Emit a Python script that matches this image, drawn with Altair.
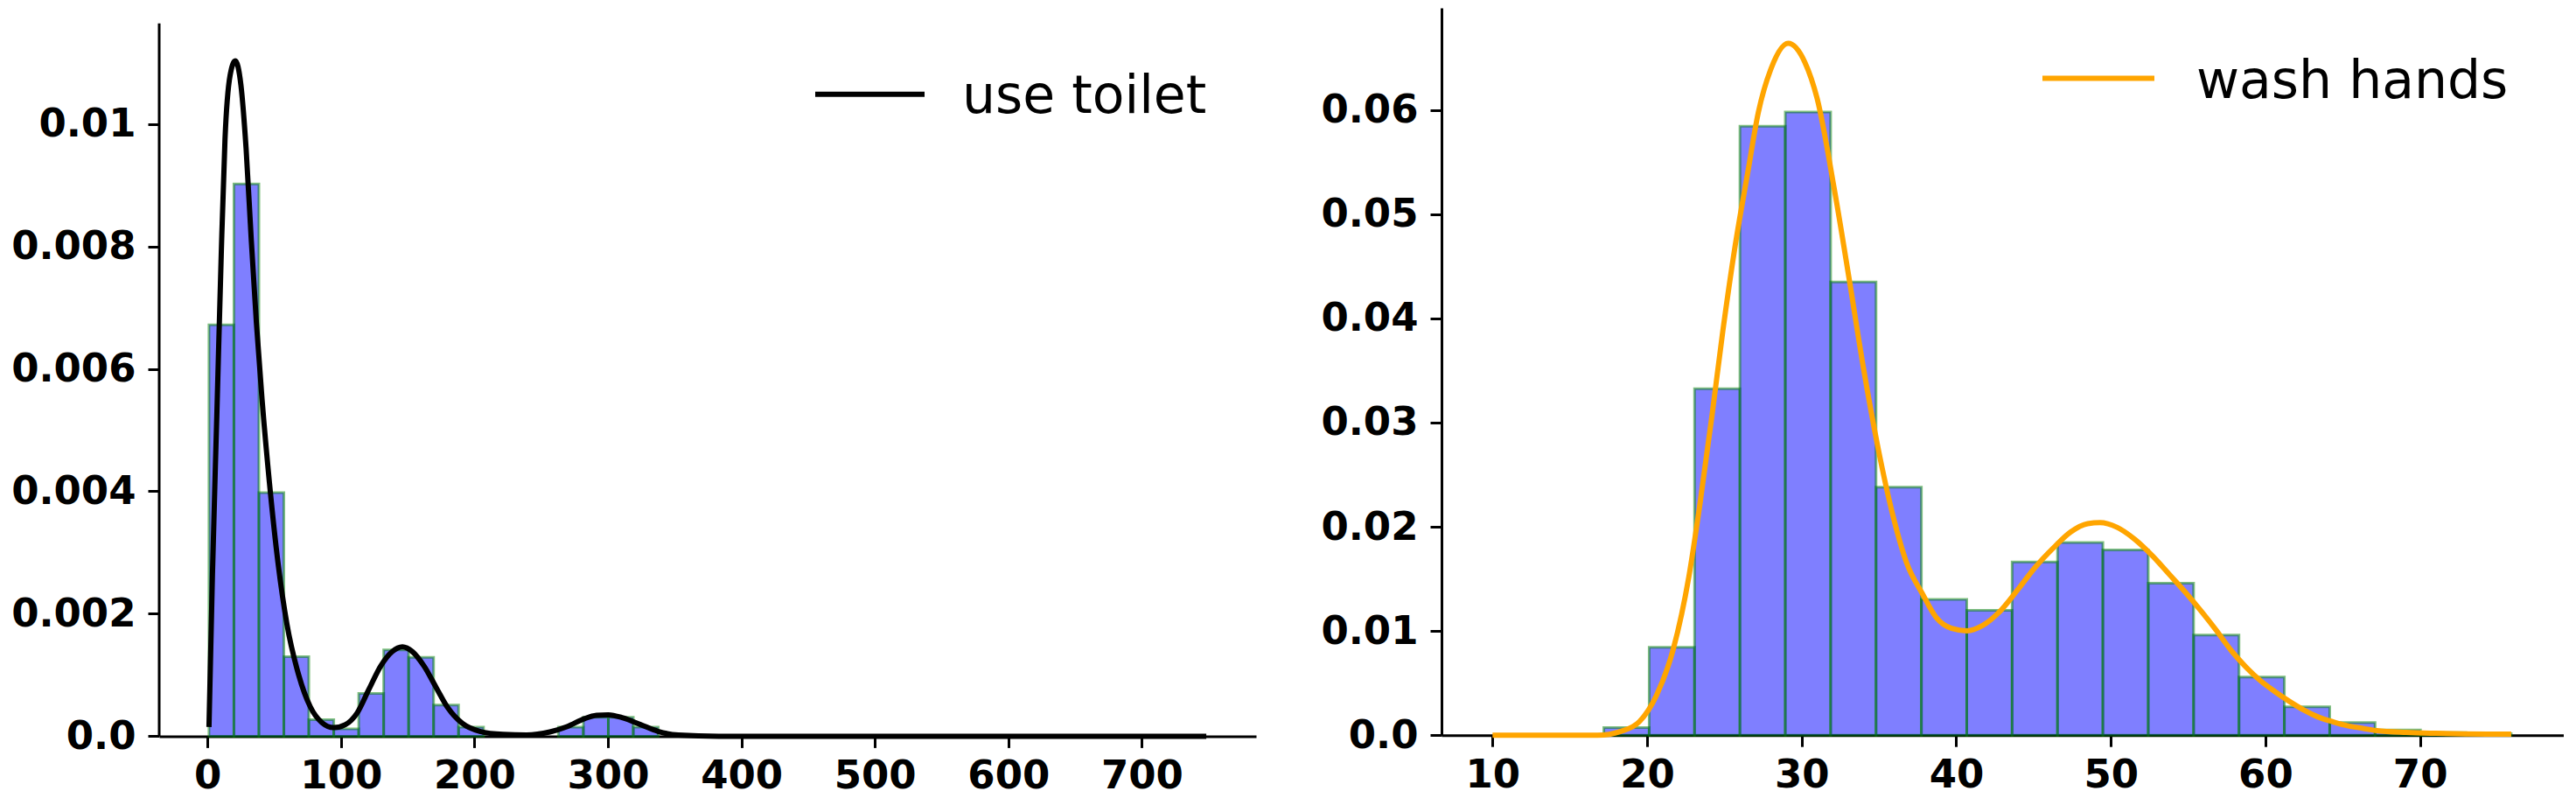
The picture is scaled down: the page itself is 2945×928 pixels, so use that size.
import altair as alt
import numpy as np
import pandas as pd

# ---------------- Left panel: "use toilet" ----------------
toilet_label = "use toilet"
toilet_bin_min = 1.1
toilet_bin_max = 749.1
toilet_heights = [0.00672, 0.00902, 0.00398, 0.0013, 0.00027, 0.00012, 0.0007, 0.00141, 0.00129, 0.00051,
                  0.00015, 0.0, 0.0, 0.0, 0.00015, 0.00031, 0.00031, 0.00015, 0.0, 0.0,
                  0.0, 0.0, 0.0, 0.0, 0.0, 0.0, 0.0, 0.0, 0.0, 0.0,
                  0.0, 0.0, 0.0, 0.0, 0.0, 0.0, 0.0, 0.0, 0.0, 0.0]
toilet_kde_x = [1.1, 3.7, 7.0, 10.3, 13.1, 16.9, 20.8, 25.0, 28.9, 32.8, 36.6, 40.9, 46.4, 53.0,
                59.5, 68.3, 77.0, 85.8, 94.5, 103.3, 112.1, 120.8, 129.6, 138.3, 146.0, 153.6,
                162.4, 171.2, 179.9, 190.9, 204.0, 221.5, 239.0, 256.5, 269.7, 282.8, 291.5,
                300.3, 311.2, 324.4, 337.5, 352.8, 383.0, 500.0, 650.0, 748.3]
toilet_kde_y = [0.00015, 0.00265, 0.00526, 0.00788, 0.00975, 0.01079, 0.01103, 0.01064, 0.0096,
                0.0081, 0.00676, 0.00549, 0.00414, 0.0028, 0.00183, 0.001, 0.00048, 0.00022,
                0.00014, 0.00019, 0.00038, 0.00076, 0.00114, 0.00138, 0.00146, 0.00138, 0.00114,
                0.0008, 0.00047, 0.00021, 0.00008, 0.00003, 0.00002, 0.00007, 0.00016, 0.00029,
                0.00034, 0.00035, 0.0003, 0.00019, 0.00008, 0.00002, 0.0, 0.0, 0.0, 0.0]
toilet_xticks = [0, 100, 200, 300, 400, 500, 600, 700]
toilet_yticks = [0, 0.002, 0.004, 0.006, 0.008, 0.01]

# ---------------- Right panel: "wash hands" ----------------
wash_label = "wash hands"
wash_bin_min = 17.2
wash_bin_max = 75.9
wash_heights = [0.00074, 0.00843, 0.03325, 0.05845, 0.0598, 0.0435, 0.02381, 0.01303, 0.01198, 0.01663,
                0.0185, 0.01777, 0.01458, 0.00962, 0.00558, 0.00273, 0.00122, 0.00049, 0.00024, 0.00015]
wash_kde_x = [10.0, 16.8, 18.3, 19.5, 20.6, 21.7, 22.7, 23.4, 24.2, 24.9, 25.7, 26.5, 27.2, 28.0,
              29.13, 30.2, 31.0, 32.1, 33.06, 34.0, 34.95, 35.9, 36.8, 37.8, 38.7, 39.7, 40.7,
              41.7, 42.9, 44.0, 45.1, 46.3, 47.4, 48.5, 49.3, 50.4, 51.55, 52.7, 53.8, 54.95,
              55.9, 56.8, 57.8, 58.7, 59.7, 60.6, 61.6, 62.5, 63.4, 64.4, 65.3, 66.3, 67.2,
              69.1, 71.0, 72.9, 75.9]
wash_kde_y = [0.0, 0.0, 0.00037, 0.0013, 0.0038, 0.0083, 0.0152, 0.022, 0.0307, 0.0388, 0.047,
              0.0539, 0.0598, 0.0639, 0.0664, 0.0646, 0.0611, 0.0525, 0.0439, 0.0352, 0.0275,
              0.0211, 0.0165, 0.0136, 0.0113, 0.01025, 0.01002, 0.01052, 0.012, 0.014, 0.0161,
              0.018, 0.0195, 0.0203, 0.0204, 0.01995, 0.0188, 0.0172, 0.0154, 0.0135, 0.0118,
              0.0101, 0.0081, 0.0066, 0.0052, 0.0042, 0.0032, 0.0024, 0.00175, 0.00127, 0.00091,
              0.00066, 0.00043, 0.00026, 0.00018, 0.00013, 0.0001]
wash_xticks = [10, 20, 30, 40, 50, 60, 70]
wash_yticks = [0, 0.01, 0.02, 0.03, 0.04, 0.05, 0.06]

LABEL_EXPR = "datum.value == 0 ? '0.0' : '' + datum.value"


def panel(bin_min, bin_max, heights, kx, ky, xdom, ydom, xticks, yticks, width, height,
          color, label, leg_x1, leg_x2, leg_y, text_x, text_y, spine_top=None):
    edges = np.linspace(bin_min, bin_max, len(heights) + 1)
    bars_df = pd.DataFrame({"x0": edges[:-1], "x1": edges[1:], "h": heights, "base": 0.0})
    bars_df = bars_df[bars_df["h"] > 0]
    kde_df = pd.DataFrame({"x": kx, "y": ky})

    xscale = alt.Scale(domain=xdom, nice=False, zero=False)
    yscale = alt.Scale(domain=ydom, nice=False, zero=False)
    yaxis = alt.Axis(values=yticks, labelExpr=LABEL_EXPR, domain=spine_top is None)

    bars = alt.Chart(bars_df).mark_rect(
        fill="blue", fillOpacity=0.5, stroke="green", strokeOpacity=0.5, strokeWidth=3
    ).encode(
        x=alt.X("x0:Q", scale=xscale, axis=alt.Axis(values=xticks), title=None),
        x2="x1:Q",
        y=alt.Y("h:Q", scale=yscale, axis=yaxis, title=None),
        y2="base:Q",
    )
    line = alt.Chart(kde_df).mark_line(
        color=color, strokeWidth=6, interpolate="monotone"
    ).encode(x="x:Q", y="y:Q")

    leg = alt.Chart(pd.DataFrame({"label": [label]}))
    leg_line = leg.mark_rule(color=color, strokeWidth=6).encode(
        x=alt.value(leg_x1), x2=alt.value(leg_x2), y=alt.value(leg_y)
    )
    leg_text = leg.mark_text(
        align="left", baseline="alphabetic", font="DejaVu Sans", fontSize=60, color="black"
    ).encode(x=alt.value(text_x), y=alt.value(text_y), text="label:N")

    layers = [bars, line, leg_line, leg_text]
    if spine_top is not None:
        # left spine of the axes box, which starts below the top of the row
        spine = leg.mark_rule(color="black", strokeWidth=3).encode(
            x=alt.value(0), y=alt.value(spine_top), y2=alt.value(height)
        )
        layers.append(spine)
    return alt.layer(*layers).properties(width=width, height=height)


# left axes box: plot from y=28.4 to 843 (0.01 per 699.8 px); row top at 10.6
left = panel(toilet_bin_min, toilet_bin_max, toilet_heights, toilet_kde_x, toilet_kde_y,
             [-36.2, 785.6], [0, 0.011895], toilet_xticks, toilet_yticks, 1254, 832.4,
             "black", toilet_label, 750, 875, 98.7, 918, 120.4, spine_top=17.8)

right = panel(wash_bin_min, wash_bin_max, wash_heights, wash_kde_x, wash_kde_y,
              [6.7, 79.3], [0, 0.0698], wash_xticks, wash_yticks, 1283, 831.2,
              "orange", wash_label, 687, 815, 80.4, 863, 102.7)

chart = alt.hconcat(left, right, spacing=73).properties(
    padding={"left": 4, "top": 1, "right": 0, "bottom": 6}
).configure_axis(
    domainColor="black", domainWidth=3, tickColor="black", tickWidth=3, tickSize=13,
    labelFont="DejaVu Sans", labelFontSize=45, labelFontWeight="bold", labelColor="black",
    grid=False, labelFlush=False
).configure_axisY(labelPadding=14).configure_axisX(labelPadding=10).configure_view(strokeWidth=0)

chart.save("out.html", embed_options={"renderer": "svg", "actions": False})
